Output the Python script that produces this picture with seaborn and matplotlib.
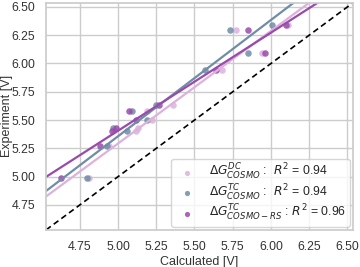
import numpy as np
import pandas as pd
import seaborn as sns
import matplotlib
matplotlib.use("Agg")
import matplotlib.pyplot as plt

experiment = [4.99, 5.27, 5.40, 5.43, 5.50, 5.58, 5.63, 5.94, 6.09, 6.30, 6.34]
calc_dc = [4.81, 4.94, 5.12, 5.13, 5.22, 5.19, 5.36, 5.68, 5.94, 5.77, 6.11]
calc_tc = [4.80, 4.93, 5.06, 4.97, 5.19, 5.09, 5.25, 5.57, 5.85, 5.73, 6.01]
calc_rs = [4.63, 4.88, 4.96, 4.99, 5.12, 5.07, 5.27, 5.64, 5.96, 5.85, 6.10]

labels = [r"$\Delta G^{DC}_{COSMO}$ :  $R^2$ = 0.94",
          r"$\Delta G^{TC}_{COSMO}$ :  $R^2$ = 0.94",
          r"$\Delta G^{TC}_{COSMO-RS}$ : $R^2$ = 0.96"]
colors = ["#dcb2dc", "#6f8da6", "#9a4aaa"]
ticks = [4.75, 5.00, 5.25, 5.50, 5.75, 6.00, 6.25, 6.50]
lims = (4.53, 6.535)

sns.set_theme(style="whitegrid")
plt.rcParams['font.family'] = ['Liberation Sans', 'DejaVu Sans']
plt.rcParams['font.size'] = 8.5
plt.rcParams['mathtext.fontset'] = 'dejavusans'

fig, ax = plt.subplots(figsize=(3.6, 2.67), dpi=100)
ax.set_xlim(lims)
ax.set_ylim(lims)

for xs, col, lab in zip([calc_dc, calc_tc, calc_rs], colors, labels):
    df = pd.DataFrame({"calc": xs, "exp": experiment})
    sns.regplot(data=df, x="calc", y="exp", ax=ax, ci=None, truncate=False,
                color=col, label=lab,
                scatter_kws=dict(s=22, alpha=0.85, linewidths=0),
                line_kws=dict(lw=1.6))

ax.plot(lims, lims, color="black", lw=1.2, dashes=(3.5, 2.2))
ax.set_xlim(lims)
ax.set_ylim(lims)
ax.set_xticks(ticks)
ax.set_yticks(ticks)
ax.set_xticklabels([f"{t:.2f}" for t in ticks], fontsize=8.8, color="#333333")
ax.set_yticklabels([f"{t:.2f}" for t in ticks], fontsize=8.8, color="#333333")
ax.tick_params(axis="both", pad=2)
ax.set_xlabel("Calculated [V]", fontsize=9, color="#333333", labelpad=2)
ax.set_ylabel("Experiment [V]", fontsize=9, color="#333333")
ax.yaxis.set_label_coords(-0.108, 0.5)

handles, labs = ax.get_legend_handles_labels()
pts = [h for h in handles if isinstance(h, matplotlib.collections.PathCollection)]
pl = [l for h, l in zip(handles, labs) if isinstance(h, matplotlib.collections.PathCollection)]
ax.legend(pts, pl, loc="lower right", fontsize=8.8, markerscale=0.8,
          handletextpad=0.8, borderpad=0.3, labelspacing=0.02,
          borderaxespad=0.25, frameon=True)

fig.subplots_adjust(left=0.128, right=0.98, top=0.989, bottom=0.139)
fig.savefig("out.png", dpi=100)
